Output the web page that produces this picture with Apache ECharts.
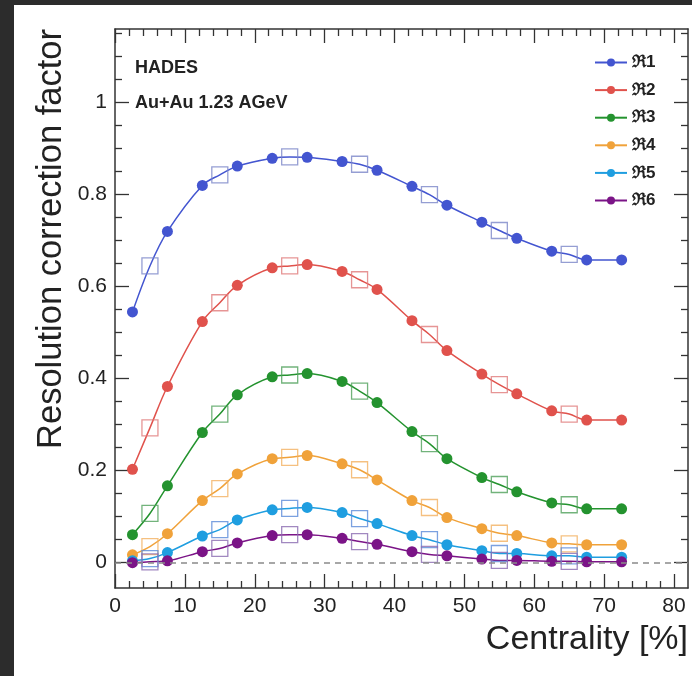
<!DOCTYPE html>
<html>
<head>
<meta charset="utf-8">
<script src="https://cdn.jsdelivr.net/npm/echarts@6/dist/echarts.min.js"></script>
<style>
  html, body { margin: 0; padding: 0; background: #2c2c2c; }
  body { width: 692px; height: 676px; position: relative; overflow: hidden; }
  #chart { position: absolute; left: 14px; top: 5px; width: 678px; height: 671px; background: #ffffff; }
</style>
</head>
<body>
<div id="chart"></div>
<script>
// Centrality bins: filled circles at bin centres, open squares at the alternative points
const circleX = [2.5, 7.5, 12.5, 17.5, 22.5, 27.5, 32.5, 37.5, 42.5, 47.5, 52.5, 57.5, 62.5, 67.5, 72.5];
const squareX = [5, 15, 25, 35, 45, 55, 65];

const seriesNames = ['\u211C1', '\u211C2', '\u211C3', '\u211C4', '\u211C5', '\u211C6'];

const r1Circles = [0.545, 0.720, 0.820, 0.862, 0.879, 0.881, 0.872, 0.853, 0.818, 0.777, 0.740, 0.705, 0.677, 0.658, 0.658];
const r1Squares = [0.645, 0.843, 0.882, 0.866, 0.800, 0.722, 0.670];

const r2Circles = [0.203, 0.383, 0.524, 0.603, 0.641, 0.648, 0.633, 0.594, 0.526, 0.461, 0.410, 0.367, 0.330, 0.310, 0.310];
const r2Squares = [0.293, 0.565, 0.645, 0.615, 0.496, 0.387, 0.323];

const r3Circles = [0.061, 0.167, 0.283, 0.365, 0.404, 0.411, 0.394, 0.348, 0.285, 0.226, 0.185, 0.154, 0.130, 0.117, 0.117];
const r3Squares = [0.107, 0.323, 0.408, 0.373, 0.259, 0.170, 0.126];

const r4Circles = [0.017, 0.063, 0.135, 0.193, 0.226, 0.233, 0.215, 0.180, 0.135, 0.098, 0.074, 0.059, 0.043, 0.039, 0.039];
const r4Squares = [0.035, 0.161, 0.229, 0.202, 0.120, 0.064, 0.041];

const r5Circles = [0.004, 0.022, 0.058, 0.093, 0.115, 0.120, 0.109, 0.085, 0.059, 0.039, 0.026, 0.020, 0.015, 0.012, 0.012];
const r5Squares = [0.009, 0.072, 0.118, 0.096, 0.050, 0.020, 0.015];

const r6Circles = [0.000, 0.004, 0.024, 0.043, 0.059, 0.061, 0.053, 0.040, 0.024, 0.015, 0.008, 0.005, 0.003, 0.002, 0.002];
const r6Squares = [0.002, 0.031, 0.061, 0.046, 0.018, 0.005, 0.003];

// Axis ticks
const xMajorTicks = [0, 10, 20, 30, 40, 50, 60, 70, 80];
const xMinorTicks = [2, 4, 6, 8, 12, 14, 16, 18, 22, 24, 26, 28, 32, 34, 36, 38, 42, 44, 46, 48,
                     52, 54, 56, 58, 62, 64, 66, 68, 72, 74, 76, 78];
const yMajorTicks = [0, 0.2, 0.4, 0.6, 0.8, 1];
const yMinorTicks = [0.05, 0.1, 0.15, 0.25, 0.3, 0.35, 0.45, 0.5, 0.55, 0.65, 0.7, 0.75,
                     0.85, 0.9, 0.95, 1.05, 1.1, 1.15];

const lineColors = ['#4355d0', '#e0524c', '#24932f', '#f0a23a', '#1f9ee0', '#7b1487'];
const squareColors = ['#7a86c8', '#e07a7a', '#4fa05a', '#f2b060', '#5a8ad8', '#8a6ab0'];

const circleSets = [r1Circles, r2Circles, r3Circles, r4Circles, r5Circles, r6Circles];
const squareSets = [r1Squares, r2Squares, r3Squares, r4Squares, r5Squares, r6Squares];

const FONT = '"Liberation Sans", Arial, Helvetica, sans-serif';
const AXIS_COLOR = '#333333';
const TEXT_COLOR = '#222222';

const chart = echarts.init(document.getElementById('chart'), null, { renderer: 'canvas' });

// Curve through both the circle and square points, ordered by centrality
function mergedCurve(cy, sy) {
  const pts = [];
  circleX.forEach((x, i) => pts.push({ value: [x, cy[i]] }));
  squareX.forEach((x, i) => pts.push({ value: [x, sy[i]], symbol: 'none' }));
  pts.sort((a, b) => a.value[0] - b.value[0]);
  return pts;
}

const series = [];
// dashed reference line at zero
series.push({
  type: 'line', xAxisIndex: 0, yAxisIndex: 0, data: [], z: 1, silent: true,
  markLine: {
    silent: true, symbol: ['none', 'none'], label: { show: false },
    lineStyle: { type: [6, 5], color: '#8a8a8a', width: 1.6 },
    data: [{ yAxis: 0 }]
  }
});
seriesNames.forEach((name, k) => {
  series.push({
    name: name, type: 'line', xAxisIndex: 0, yAxisIndex: 0,
    data: mergedCurve(circleSets[k], squareSets[k]),
    smooth: 0.35, symbol: 'circle', symbolSize: 11, showSymbol: true,
    itemStyle: { color: lineColors[k] },
    lineStyle: { color: lineColors[k], width: 1.5 },
    z: 3, animation: false
  });
  series.push({
    name: name + ' squares', type: 'scatter', xAxisIndex: 0, yAxisIndex: 0,
    data: squareX.map((x, i) => [x, squareSets[k][i]]),
    symbol: 'rect', symbolSize: 16,
    itemStyle: { color: 'rgba(255,255,255,0)', borderColor: squareColors[k], borderWidth: 1.3 },
    z: 4, animation: false
  });
});

function xAxisCfg(pos, ticks, len, withLabels, withLine) {
  return {
    type: 'value', position: pos, min: 0, max: 82,
    axisLine: { show: withLine, onZero: false, lineStyle: { color: AXIS_COLOR, width: 1.5 } },
    axisTick: { show: true, inside: true, length: len, customValues: ticks,
                lineStyle: { color: AXIS_COLOR, width: 1.3 } },
    axisLabel: withLabels
      ? { show: true, customValues: ticks, fontSize: 21, color: TEXT_COLOR, fontFamily: FONT, margin: 8 }
      : { show: false },
    splitLine: { show: false }
  };
}
function yAxisCfg(pos, ticks, len, withLabels, withLine) {
  return {
    type: 'value', position: pos, min: -0.055, max: 1.16,
    axisLine: { show: withLine, onZero: false, lineStyle: { color: AXIS_COLOR, width: 1.5 } },
    axisTick: { show: true, inside: true, length: len, customValues: ticks,
                lineStyle: { color: AXIS_COLOR, width: 1.3 } },
    axisLabel: withLabels
      ? { show: true, customValues: ticks, fontSize: 21, color: TEXT_COLOR, fontFamily: FONT, margin: 8 }
      : { show: false },
    splitLine: { show: false }
  };
}

const xBottom = xAxisCfg('bottom', xMajorTicks, 14, true, true);
xBottom.name = 'Centrality [%]';
xBottom.nameLocation = 'end';
xBottom.nameGap = 0;
xBottom.nameTextStyle = { fontSize: 34, color: TEXT_COLOR, fontFamily: FONT,
                          align: 'right', verticalAlign: 'top', padding: [35, 0, 0, 0] };

const yLeft = yAxisCfg('left', yMajorTicks, 14, true, true);
yLeft.name = 'Resolution correction factor';
yLeft.nameLocation = 'end';
yLeft.nameGap = 0;
yLeft.nameRotate = 90;
yLeft.nameTextStyle = { fontSize: 34.5, color: TEXT_COLOR, fontFamily: FONT,
                        align: 'right', verticalAlign: 'bottom', padding: [0, 0, 46, 0] };

const option = {
  animation: false,
  backgroundColor: '#ffffff',
  grid: { left: 101, right: 4, top: 24, bottom: 88, containLabel: false },
  xAxis: [
    xBottom,
    xAxisCfg('bottom', xMinorTicks, 7, false, false),
    xAxisCfg('top', xMajorTicks, 14, false, true),
    xAxisCfg('top', xMinorTicks, 7, false, false)
  ],
  yAxis: [
    yLeft,
    yAxisCfg('left', yMinorTicks, 7, false, false),
    yAxisCfg('right', yMajorTicks, 14, false, true),
    yAxisCfg('right', yMinorTicks, 7, false, false)
  ],
  legend: {
    data: seriesNames,
    orient: 'vertical', left: 575, top: 44,
    itemWidth: 32, itemHeight: 10, itemGap: 10.6,
    selectedMode: false,
    textStyle: { fontSize: 17, fontWeight: 'bold', color: TEXT_COLOR, fontFamily: FONT, lineHeight: 16 }
  },
  graphic: [
    { type: 'text', left: 121, top: 54,
      style: { text: 'HADES', fontSize: 18, fontWeight: 'bold', fill: TEXT_COLOR, fontFamily: FONT } },
    { type: 'text', left: 121, top: 89,
      style: { text: 'Au+Au 1.23 AGeV', fontSize: 18, fontWeight: 'bold', fill: TEXT_COLOR, fontFamily: FONT } }
  ],
  series: series
};

chart.setOption(option);
</script>
</body>
</html>
